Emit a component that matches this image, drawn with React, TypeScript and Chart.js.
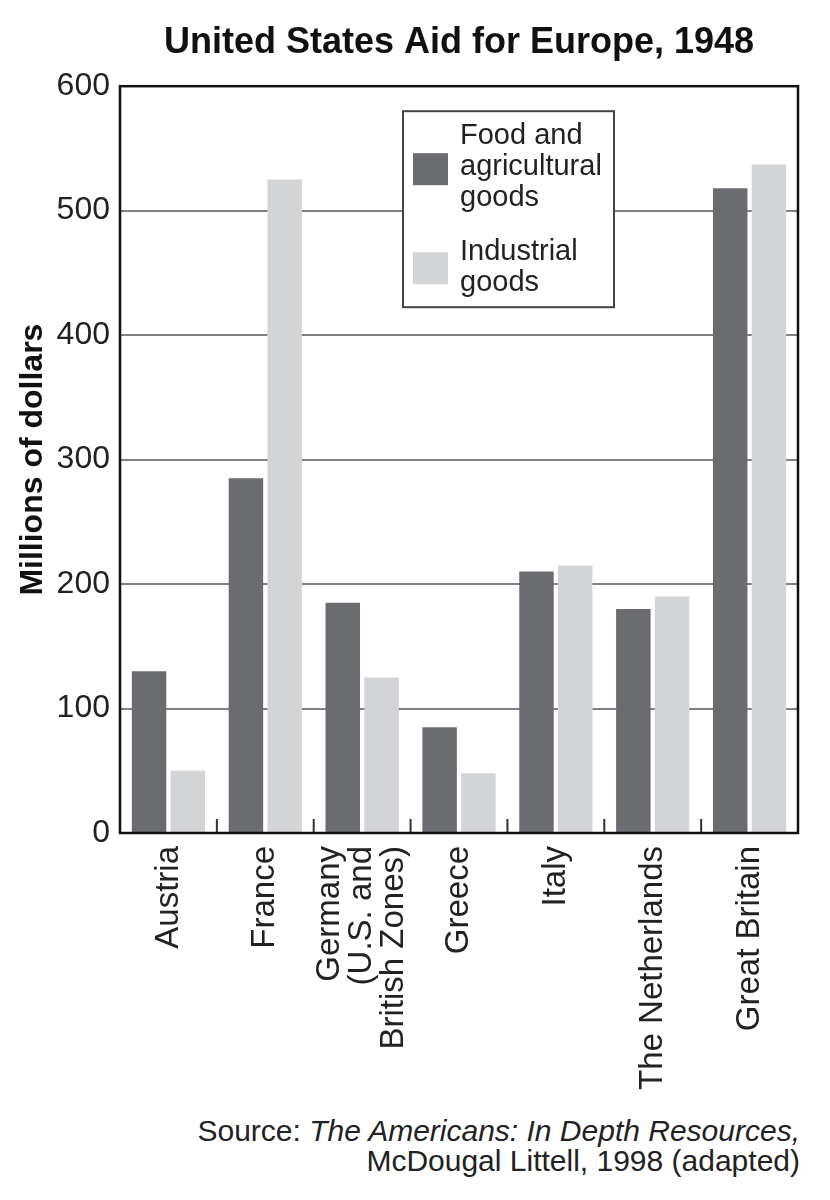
import { useEffect, useRef } from 'react';
import { Chart, registerables } from 'chart.js';
import type { ChartConfiguration, Plugin } from 'chart.js';

Chart.register(...registerables);

// chart data
const countries: (string | string[])[] = [
  'Austria',
  'France',
  ['Germany', '(U.S. and', 'British Zones)'],
  'Greece',
  'Italy',
  'The Netherlands',
  'Great Britain',
];
const foodAid = [130, 285, 185, 85, 210, 180, 518];
const industrialAid = [50, 525, 125, 48, 215, 190, 537];
const yTicks = [0, 100, 200, 300, 400, 500, 600];
const legendLines = [
  ['Food and', 'agricultural', 'goods'],
  ['Industrial', 'goods'],
];

const FONT = '"Liberation Sans", Arial, Helvetica, sans-serif';
const DARK = '#6b6c70';
const LIGHT = '#d3d4d6';

// frame, inner category ticks and the boxed legend
const framePlugin: Plugin<'bar'> = {
  id: 'frame',
  afterDatasetsDraw(chart) {
    const { ctx, chartArea: a } = chart;
    const x = chart.scales.x;
    ctx.save();

    ctx.strokeStyle = '#333';
    ctx.lineWidth = 2;
    for (let i = 1; i < countries.length; i++) {
      const px = (x.getPixelForValue(i - 1) + x.getPixelForValue(i)) / 2;
      ctx.beginPath();
      ctx.moveTo(px, a.bottom);
      ctx.lineTo(px, a.bottom - 14);
      ctx.stroke();
    }

    ctx.strokeStyle = '#111';
    ctx.lineWidth = 2.5;
    ctx.strokeRect(a.left, a.top, a.right - a.left, a.bottom - a.top);

    // legend box
    const lx = a.left + 283;
    const ly = a.top + 25;
    ctx.fillStyle = '#fff';
    ctx.fillRect(lx, ly, 211, 196);
    ctx.strokeStyle = '#444';
    ctx.lineWidth = 2;
    ctx.strokeRect(lx, ly, 211, 196);

    const swatchTops = [a.top + 67, a.top + 166];
    const textTops = [a.top + 50, a.top + 166];
    ctx.font = `29px ${FONT}`;
    ctx.textBaseline = 'middle';
    ctx.textAlign = 'left';
    chart.data.datasets.forEach((ds, i) => {
      ctx.fillStyle = ds.backgroundColor as string;
      ctx.fillRect(lx + 10, swatchTops[i], 35, 32);
      ctx.fillStyle = '#222';
      legendLines[i].forEach((line, j) => {
        ctx.fillText(line, lx + 57, textTops[i] + j * 31);
      });
    });

    ctx.restore();
  },
};

// vertical category labels, multi-line blocks centred on the category
const labelPlugin: Plugin<'bar'> = {
  id: 'rotatedLabels',
  afterDraw(chart) {
    const { ctx, chartArea: a } = chart;
    const x = chart.scales.x;
    const lh = 32;
    ctx.save();
    ctx.font = `33px ${FONT}`;
    ctx.fillStyle = '#222';
    ctx.textAlign = 'right';
    ctx.textBaseline = 'middle';
    countries.forEach((lab, i) => {
      const lines = Array.isArray(lab) ? lab : [lab];
      const cx = x.getPixelForValue(i);
      lines.forEach((line, j) => {
        const px = cx + (j - (lines.length - 1) / 2) * lh;
        ctx.save();
        ctx.translate(px, a.bottom + 13);
        ctx.rotate(-Math.PI / 2);
        ctx.fillText(line, 0, 0);
        ctx.restore();
      });
    });
    ctx.restore();
  },
};

function AidChart() {
  const canvasRef = useRef<HTMLCanvasElement>(null);
  const chartRef = useRef<Chart | null>(null);

  useEffect(() => {
    if (!canvasRef.current) return;
    if (chartRef.current) chartRef.current.destroy();

    const config: ChartConfiguration<'bar'> = {
      type: 'bar',
      data: {
        labels: countries,
        datasets: [
          {
            label: 'Food and agricultural goods',
            data: foodAid,
            backgroundColor: DARK,
            categoryPercentage: 0.8,
            barPercentage: 0.89,
          },
          {
            label: 'Industrial goods',
            data: industrialAid,
            backgroundColor: LIGHT,
            categoryPercentage: 0.8,
            barPercentage: 0.89,
          },
        ],
      },
      options: {
        responsive: true,
        maintainAspectRatio: false,
        animation: false,
        layout: { padding: { top: 0, right: 32, bottom: 0, left: 0 } },
        plugins: {
          legend: { display: false },
          tooltip: { enabled: false },
          title: {
            display: true,
            text: 'United States Aid for Europe, 1948',
            fullSize: false,
            color: '#111',
            font: { family: FONT, size: 36, weight: 'bold', lineHeight: 1.2 },
            padding: { top: 21, bottom: 22 },
          },
        },
        scales: {
          x: {
            grid: { display: false },
            border: { display: false },
            ticks: { display: false },
            afterFit: (scale) => {
              scale.height = 1110 - 833;
            },
          },
          y: {
            min: 0,
            max: 600,
            afterBuildTicks: (scale) => {
              scale.ticks = yTicks.map((v) => ({ value: v }));
            },
            grid: { color: '#808080', lineWidth: 2, drawTicks: false },
            border: { display: false },
            ticks: {
              padding: 10,
              color: '#222',
              font: { family: FONT, size: 32 },
            },
            title: {
              display: true,
              text: 'Millions of dollars',
              color: '#111',
              font: { family: FONT, size: 32, weight: 'bold', lineHeight: 1.2 },
              padding: { top: 14, bottom: 0 },
            },
            afterFit: (scale) => {
              scale.width = 120;
            },
          },
        },
      },
      plugins: [framePlugin, labelPlugin],
    };

    chartRef.current = new Chart(canvasRef.current, config);

    return () => {
      if (chartRef.current) {
        chartRef.current.destroy();
        chartRef.current = null;
      }
    };
  }, []);

  return (
    <div style={{ width: 830, height: 1110 }}>
      <canvas ref={canvasRef} />
    </div>
  );
}

export default function App() {
  useEffect(() => {
    document.body.style.margin = '0';
  }, []);

  return (
    <div style={{ position: 'relative', width: 830, height: 1200, background: '#fff' }}>
      <AidChart />
      <div
        style={{
          position: 'absolute',
          top: 1116,
          right: 30,
          textAlign: 'right',
          fontFamily: FONT,
          fontSize: 30,
          lineHeight: '30px',
          color: '#222',
        }}
      >
        <div>
          Source: <i>The Americans: In Depth Resources,</i>
        </div>
        <div>McDougal Littell, 1998 (adapted)</div>
      </div>
    </div>
  );
}
